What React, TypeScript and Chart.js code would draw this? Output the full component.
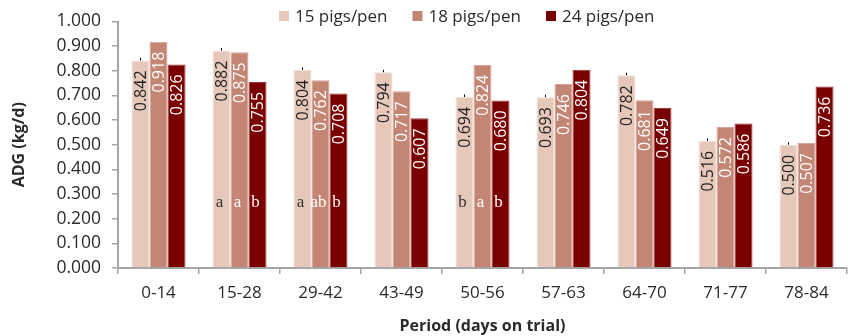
import React, { useEffect, useRef } from "react";
import { Chart, registerables } from "chart.js";

Chart.register(...registerables);

const categories = ["0-14", "15-28", "29-42", "43-49", "50-56", "57-63", "64-70", "71-77", "78-84"];
const seriesNames = ["15 pigs/pen", "18 pigs/pen", "24 pigs/pen"];
const pigs15 = [0.842, 0.882, 0.804, 0.794, 0.694, 0.693, 0.782, 0.516, 0.5];
const pigs18 = [0.918, 0.875, 0.762, 0.717, 0.824, 0.746, 0.681, 0.572, 0.507];
const pigs24 = [0.826, 0.755, 0.708, 0.607, 0.68, 0.804, 0.649, 0.586, 0.736];
const pigs15Err = [0.01, 0.01, 0.01, 0.01, 0.01, 0.01, 0.01, 0.01, 0.01];
const letters15 = ["", "a", "a", "", "b", "", "", "", ""];
const letters18 = ["", "a", "ab", "", "a", "", "", "", ""];
const letters24 = ["", "b", "b", "", "b", "", "", "", ""];
const letterLevel = 0.265;
const yTicks = [0, 0.1, 0.2, 0.3, 0.4, 0.5, 0.6, 0.7, 0.8, 0.9, 1.0];

const barColors = ["#E6C8BB", "#C48674", "#7A0000"];
const borderColors = ["#F2DED5", "#D8A496", "#9C3A3A"];
const labelColors = ["#222222", "#FFFFFF", "#FFFFFF"];
const letterColors = ["#333333", "#FFFFFF", "#FFFFFF"];

const overlayPlugin = {
  id: "overlay",
  afterDatasetsDraw(chart: any) {
    const ctx = chart.ctx;
    const yScale = chart.scales.y;
    const letterSets = [letters15, letters18, letters24];
    chart.data.datasets.forEach((ds: any, di: number) => {
      const meta = chart.getDatasetMeta(di);
      meta.data.forEach((bar: any, i: number) => {
        const v = ds.data[i];
        if (di === 0) {
          const yTop = yScale.getPixelForValue(v + pigs15Err[i]);
          const yBase = yScale.getPixelForValue(v);
          ctx.save();
          ctx.strokeStyle = "#000";
          ctx.lineWidth = 1;
          ctx.beginPath();
          ctx.moveTo(Math.round(bar.x) + 0.5, yTop);
          ctx.lineTo(Math.round(bar.x) + 0.5, yBase);
          ctx.stroke();
          ctx.restore();
        }
        ctx.save();
        ctx.translate(bar.x, bar.y + 10);
        ctx.rotate(-Math.PI / 2);
        ctx.font = "16px 'Open Sans'";
        ctx.fillStyle = labelColors[di];
        ctx.textAlign = "right";
        ctx.textBaseline = "middle";
        ctx.fillText(v.toFixed(3), 0, 1);
        ctx.restore();
        const letter = letterSets[di][i];
        if (letter) {
          ctx.save();
          ctx.font = "17px 'Liberation Serif'";
          ctx.fillStyle = letterColors[di];
          ctx.textAlign = "center";
          ctx.textBaseline = "middle";
          ctx.fillText(letter, bar.x - 2, yScale.getPixelForValue(letterLevel));
          ctx.restore();
        }
      });
    });
  },
  afterDraw(chart: any) {
    const ctx = chart.ctx;
    ctx.save();
    ctx.font = "17px 'Open Sans'";
    ctx.textBaseline = "middle";
    let x = 279;
    const y = 16;
    chart.data.datasets.forEach((ds: any) => {
      ctx.fillStyle = ds.backgroundColor;
      ctx.fillRect(x, y - 5, 10, 10);
      ctx.fillStyle = "#2B2B2B";
      ctx.textAlign = "left";
      ctx.fillText(ds.label, x + 16, y + 1);
      x += 16 + ctx.measureText(ds.label).width + 25;
    });
    ctx.restore();
  },
};

export default function App() {
  const ref = useRef<HTMLCanvasElement>(null);
  useEffect(() => {
    document.body.style.margin = "0";
    const seriesData = [pigs15, pigs18, pigs24];
    const chart = new Chart(ref.current as HTMLCanvasElement, {
      type: "bar",
      data: {
        labels: categories,
        datasets: seriesNames.map((name, i) => ({
          label: name,
          data: seriesData[i],
          backgroundColor: barColors[i],
          borderColor: borderColors[i],
          borderWidth: 1,
          categoryPercentage: 0.667,
          barPercentage: 1.0,
        })),
      },
      options: {
        animation: false,
        responsive: false,
        maintainAspectRatio: false,
        layout: { padding: { top: 17, right: 3, left: 0, bottom: 0 } },
        plugins: {
          legend: { display: false },
          tooltip: { enabled: false },
        },
        scales: {
          x: {
            grid: {
              display: true,
              drawOnChartArea: false,
              drawTicks: true,
              tickLength: 6,
              color: "#A6A6A6",
              lineWidth: 1.5,
              offset: true,
            },
            border: { display: true, color: "#A6A6A6", width: 2 },
            ticks: {
              color: "#2B2B2B",
              font: { family: "'Open Sans'", size: 17 },
              padding: 9,
              maxRotation: 0,
            },
            title: {
              display: true,
              text: "Period (days on trial)",
              color: "#2B2B2B",
              font: { family: "'Open Sans'", size: 16, weight: "bold" },
              padding: { top: 0, bottom: 0 },
            },
            afterFit(scale: any) {
              scale.height = 68;
            },
          },
          y: {
            min: 0,
            max: 1,
            afterBuildTicks(scale: any) {
              scale.ticks = yTicks.map((v) => ({ value: v }));
            },
            grid: {
              display: true,
              drawOnChartArea: false,
              drawTicks: true,
              tickLength: 6,
              color: "#A6A6A6",
              lineWidth: 1.5,
            },
            border: { display: true, color: "#A6A6A6", width: 2 },
            ticks: {
              color: "#2B2B2B",
              font: { family: "'Open Sans'", size: 17.5 },
              padding: 11,
              callback: (v: any) => Number(v).toFixed(3),
            },
            title: {
              display: true,
              text: "ADG (kg/d)",
              color: "#2B2B2B",
              font: { family: "'Open Sans'", size: 16, weight: "bold" },
              padding: { top: 10, bottom: 0 },
            },
            afterFit(scale: any) {
              scale.width = 118;
            },
          },
        },
      },
      plugins: [overlayPlugin],
    });
    return () => chart.destroy();
  }, []);
  return (
    <div style={{ width: 850, height: 336 }}>
      <canvas ref={ref} width={850} height={336} style={{ display: "block" }} />
    </div>
  );
}
